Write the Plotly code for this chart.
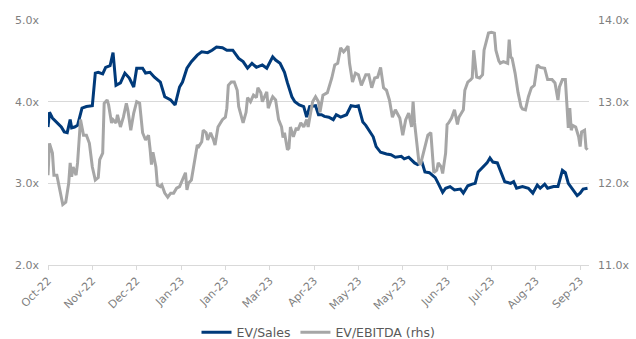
import datetime as dt
import plotly.graph_objects as go

# Valuation multiples, one year of history (day offsets from the start date)
start_date = dt.date(2022, 10, 3)

sales_days = [0, 1, 3, 6, 9, 11, 13, 15, 16, 18, 20, 23, 26, 30, 32, 34, 37, 39, 42, 44,
              46, 49, 52, 55, 58, 60, 64, 66, 69, 72, 76, 79, 83, 86, 89, 91, 94, 97, 101, 104,
              108, 111, 114, 118, 121, 125, 129, 132, 135, 138, 141, 145, 148, 152, 154, 157, 160, 162, 165, 167,
              170, 173, 175, 177, 181, 183, 185, 187, 190, 193, 195, 198, 202, 205, 208, 210, 213, 215, 217, 220,
              222, 225, 229, 232, 235, 239, 241, 244, 248, 250, 253, 255, 258, 262, 264, 267, 269, 272, 275, 279,
              281, 284, 287, 289, 291, 294, 297, 299, 301, 304, 306, 309, 313, 315, 317, 321, 325, 328, 331, 333,
              336, 338, 342, 345, 348, 350, 352, 355, 358, 360, 362, 365]
ev_sales = [3.69, 3.87, 3.80, 3.75, 3.69, 3.63, 3.62, 3.78, 3.68, 3.69, 3.71, 3.92, 3.94, 3.95, 4.35, 4.36, 4.34, 4.42, 4.44, 4.60,
            4.20, 4.23, 4.35, 4.29, 4.18, 4.41, 4.41, 4.35, 4.36, 4.30, 4.24, 4.06, 4.02, 3.96, 4.18, 4.24, 4.41, 4.49, 4.57, 4.61,
            4.60, 4.63, 4.67, 4.66, 4.63, 4.63, 4.53, 4.49, 4.41, 4.47, 4.42, 4.45, 4.41, 4.55, 4.51, 4.47, 4.36, 4.23, 4.06, 4.00,
            3.96, 3.94, 3.81, 3.94, 3.95, 3.84, 3.84, 3.82, 3.81, 3.78, 3.84, 3.81, 3.84, 3.95, 3.94, 3.95, 3.75, 3.71, 3.65, 3.57,
            3.45, 3.38, 3.36, 3.35, 3.32, 3.33, 3.30, 3.32, 3.25, 3.23, 3.26, 3.14, 3.13, 3.07, 3.00, 2.89, 2.94, 2.96, 2.92, 2.93,
            2.88, 2.97, 2.99, 3.00, 3.14, 3.19, 3.25, 3.31, 3.26, 3.25, 3.16, 3.02, 3.00, 3.02, 2.94, 2.96, 2.94, 2.88, 2.98, 2.94,
            2.99, 2.94, 2.96, 2.96, 3.16, 3.13, 3.00, 2.92, 2.85, 2.88, 2.93, 2.94]

ebitda_days = [0, 1, 3, 4, 6, 7, 9, 10, 12, 14, 15, 16, 17, 19, 20, 22, 24, 26, 28, 30,
               32, 34, 35, 37, 38, 40, 41, 43, 44, 46, 47, 49, 51, 53, 54, 56, 58, 60, 62, 63,
               64, 66, 68, 69, 70, 71, 73, 74, 76, 77, 79, 81, 83, 85, 87, 89, 91, 93, 94, 95,
               97, 99, 101, 102, 104, 105, 107, 108, 110, 112, 113, 115, 117, 118, 120, 121, 122, 124, 126, 128,
               129, 131, 132, 134, 135, 137, 139, 141, 142, 144, 145, 148, 149, 151, 152, 154, 156, 158, 159, 160,
               162, 163, 164, 166, 168, 169, 171, 173, 175, 176, 177, 179, 181, 183, 184, 186, 189, 192, 194, 196,
               198, 200, 201, 203, 204, 206, 208, 210, 212, 215, 217, 219, 221, 223, 225, 227, 229, 231, 233, 235,
               238, 240, 242, 244, 246, 247, 248, 250, 251, 252, 254, 256, 257, 259, 261, 263, 264, 266, 267, 269,
               270, 271, 273, 275, 277, 278, 279, 281, 282, 284, 286, 287, 288, 290, 292, 294, 295, 296, 298, 300,
               302, 303, 305, 306, 308, 311, 312, 313, 314, 316, 318, 320, 321, 323, 325, 327, 329, 331, 333, 336,
               338, 341, 343, 345, 346, 348, 350, 351, 352, 353, 354, 355, 357, 359, 360, 361, 363, 364, 365]
ev_ebitda = [12.10, 12.49, 12.37, 12.10, 12.10, 12.00, 11.83, 11.74, 11.77, 12.00, 12.25, 12.08, 12.20, 12.10, 12.25, 12.78, 12.59, 12.59, 12.49, 12.20,
             12.04, 12.07, 12.29, 12.37, 12.98, 13.02, 12.96, 12.74, 12.78, 12.74, 12.84, 12.69, 12.81, 12.98, 12.90, 12.65, 12.86, 13.00, 12.98, 12.74,
             12.62, 12.53, 12.59, 12.43, 12.23, 12.38, 12.20, 11.98, 11.96, 11.98, 11.88, 11.83, 11.88, 11.88, 11.94, 11.96, 12.04, 12.13, 11.92, 12.00,
             12.04, 12.25, 12.47, 12.45, 12.51, 12.65, 12.62, 12.53, 12.62, 12.53, 12.47, 12.69, 12.74, 12.78, 12.81, 12.92, 13.20, 13.24, 13.24, 13.14,
             12.94, 12.78, 12.74, 12.87, 13.05, 13.00, 13.08, 13.05, 13.17, 13.11, 13.00, 13.12, 12.92, 13.02, 13.06, 13.02, 12.78, 12.69, 12.56, 12.62,
             12.41, 12.43, 12.69, 12.57, 12.68, 12.65, 12.74, 12.69, 12.78, 12.69, 12.80, 13.00, 13.06, 13.00, 12.87, 13.08, 13.11, 13.29, 13.45, 13.47,
             13.66, 13.61, 13.63, 13.68, 13.47, 13.24, 13.35, 13.33, 13.20, 13.33, 13.33, 13.17, 13.29, 13.30, 13.42, 13.17, 13.14, 13.02, 12.81, 12.90,
             12.80, 12.59, 12.78, 12.86, 12.69, 13.00, 12.74, 12.41, 12.25, 12.23, 12.38, 12.53, 12.59, 12.62, 12.13, 12.16, 12.25, 12.20, 12.12, 12.37,
             12.72, 12.74, 12.80, 12.90, 12.72, 12.81, 12.84, 12.90, 13.14, 13.24, 13.27, 13.29, 13.63, 13.30, 13.29, 13.33, 13.63, 13.69, 13.84, 13.85,
             13.84, 13.63, 13.50, 13.47, 13.49, 13.47, 13.76, 13.55, 13.53, 13.35, 13.11, 12.94, 12.91, 12.90, 13.06, 13.17, 13.20, 13.45, 13.42, 13.41,
             13.27, 13.27, 13.23, 13.02, 13.18, 13.27, 13.27, 12.98, 12.68, 12.92, 12.65, 12.71, 12.69, 12.57, 12.45, 12.63, 12.65, 12.43, 12.41]

sales_dates = [start_date + dt.timedelta(days=d) for d in sales_days]
ebitda_dates = [start_date + dt.timedelta(days=d) for d in ebitda_days]

NAVY = "#003A7A"
GREY = "#A6A6A6"
TEXT = "#7F7F7F"
GRID = "#D9D9D9"
FONT = "DejaVu Sans"

fig = go.Figure()
# grey (right-axis) series first so the navy line sits on top
fig.add_trace(go.Scatter(x=ebitda_dates, y=ev_ebitda, name="EV/EBITDA (rhs)", mode="lines",
                         line=dict(color=GREY, width=3), yaxis="y2"))
fig.add_trace(go.Scatter(x=sales_dates, y=ev_sales, name="EV/Sales", mode="lines",
                         line=dict(color=NAVY, width=3), yaxis="y"))

fig.update_layout(
    width=636, height=339,
    margin=dict(l=48, r=47, t=20, b=74, autoexpand=False),
    paper_bgcolor="white", plot_bgcolor="white",
    font=dict(family=FONT, size=11, color=TEXT),
    showlegend=True,
    legend=dict(orientation="h", x=0.5, xanchor="center", y=-0.215, yanchor="top",
                traceorder="reversed", font=dict(family=FONT, size=12.5, color="#595959"),
                itemwidth=30, bgcolor="rgba(0,0,0,0)"),
    xaxis=dict(
        type="date",
        range=[start_date, start_date + dt.timedelta(days=366)],
        tick0=start_date.isoformat(), dtick=30 * 86400000,
        tickformat="%b-%y", tickangle=-45,
        ticks="outside", ticklen=4, tickcolor=GRID,
        showgrid=False, zeroline=False,
        showline=True, linecolor=GRID, linewidth=1,
        tickfont=dict(family=FONT, size=11, color=TEXT),
        automargin=False,
    ),
    yaxis=dict(
        range=[2, 5], dtick=1, tickformat=".1f", ticksuffix="x",
        showgrid=True, gridcolor=GRID, gridwidth=1, zeroline=False,
        showline=False, ticks="", ticklabelstandoff=8,
        tickfont=dict(family=FONT, size=11, color=TEXT),
        automargin=False,
    ),
    yaxis2=dict(
        range=[11, 14], dtick=1, tickformat=".1f", ticksuffix="x",
        overlaying="y", side="right", showgrid=False, zeroline=False,
        showline=False, ticks="", ticklabelstandoff=8,
        tickfont=dict(family=FONT, size=11, color=TEXT),
        automargin=False,
    ),
)

fig.write_html("out.html")
